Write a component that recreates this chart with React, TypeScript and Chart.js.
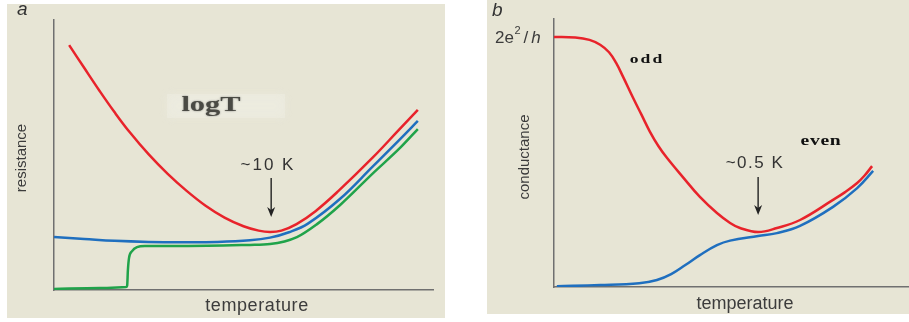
import React, { useEffect, useRef } from "react";
import { Chart, registerables } from "chart.js";

Chart.register(...registerables);

// ---------- Panel a: resistance vs temperature ----------
const resRedX = [4, 8, 12, 16, 20, 25, 30, 35, 40, 45, 50, 54, 57, 60, 64, 69, 75, 84, 91, 96];
const resRedY = [90.7, 82.2, 73.8, 65.8, 58.4, 50.2, 43.0, 36.7, 31.2, 26.8, 23.6, 22.0, 21.5, 22.0, 24.4, 29.2, 36.6, 48.9, 59.3, 66.7];

const resBlueX = [0, 8, 16, 25, 34, 43, 51.7, 57, 62, 67, 75.5, 84, 91, 96];
const resBlueY = [19.6, 18.9, 18.2, 17.8, 17.7, 17.8, 18.4, 19.4, 21.4, 24.6, 33.8, 45.6, 55.4, 62.6];

const resGreenX = [0, 12.1, 19.0, 19.3, 19.5, 19.8, 20.6, 21.9, 24.0, 34, 51.7, 57, 64.1, 69.4, 75.5, 84.2, 91.3, 96];
const resGreenY = [0.4, 0.7, 1.1, 1.6, 7.4, 11.9, 14.4, 15.9, 16.3, 16.3, 16.7, 17.0, 19.6, 24.4, 31.5, 43.3, 52.6, 59.6];

const resArrow = { x: 57.3, yTop: 41.5, yTip: 27.0 };

// ---------- Panel b: conductance vs temperature ----------
const condOddX = [0, 6, 10, 13, 15.5, 17.5, 19.5, 22.3, 24.6, 27, 29.4, 31.8, 36.3, 41.1, 45.9, 49.6, 52.4, 57.5, 62.8, 69.3, 78.6, 82, 85.4, 87.5, 89.6];
const condOddY = [93.3, 93.1, 92.2, 90.4, 87.6, 83.6, 78.3, 70.5, 64.4, 58.0, 52.6, 48.2, 41.0, 33.6, 27.6, 23.9, 22.0, 20.5, 22.0, 25.0, 32.5, 35.4, 38.8, 41.6, 45.1];

const condEvenX = [0.8, 13.0, 24, 29, 33, 37, 41.1, 45.9, 49.6, 57.5, 62.8, 69.3, 78.6, 85.4, 89.9];
const condEvenY = [0.3, 0.7, 1.4, 2.6, 4.8, 8.2, 11.9, 15.6, 17.3, 19.0, 20.1, 22.8, 29.9, 36.9, 43.3];

const condArrow = { x: 57.5, yTop: 41.0, yTip: 26.9 };

const RED = "#e8232b";
const BLUE = "#1f6fbf";
const GREEN = "#20a34a";
const BG = "#e7e5d5";
const AXIS = "#707070";
const TEXT = "#3c3c3c";
const SANS = '"Liberation Sans", Arial, sans-serif';
const SERIF = '"Liberation Serif", "Times New Roman", serif';

const zip = (xs: number[], ys: number[]) => xs.map((x, i) => ({ x, y: ys[i] }));

function lineDs(label: string, xs: number[], ys: number[], color: string, monotone = false) {
  return {
    label,
    data: zip(xs, ys),
    borderColor: color,
    backgroundColor: color,
    borderWidth: 2.5,
    pointRadius: 0,
    fill: false,
    tension: 0.4,
    cubicInterpolationMode: monotone ? ("monotone" as const) : ("default" as const),
  };
}

function drawArrow(chart: any, a: { x: number; yTop: number; yTip: number }) {
  const ctx = chart.ctx;
  const xs = chart.scales.x;
  const ys = chart.scales.y;
  const px = xs.getPixelForValue(a.x);
  const top = ys.getPixelForValue(a.yTop);
  const tip = ys.getPixelForValue(a.yTip);
  ctx.save();
  ctx.strokeStyle = "#222";
  ctx.fillStyle = "#222";
  ctx.lineWidth = 1.4;
  ctx.beginPath();
  ctx.moveTo(px, top);
  ctx.lineTo(px, tip - 6);
  ctx.stroke();
  ctx.beginPath();
  ctx.moveTo(px, tip);
  ctx.lineTo(px - 4, tip - 10);
  ctx.lineTo(px, tip - 7);
  ctx.lineTo(px + 4, tip - 10);
  ctx.closePath();
  ctx.fill();
  ctx.restore();
}

function text(
  ctx: CanvasRenderingContext2D,
  s: string,
  x: number,
  y: number,
  font: string,
  opts: { color?: string; rotate?: number; scaleX?: number; spacing?: string; align?: CanvasTextAlign; baseline?: CanvasTextBaseline } = {}
) {
  ctx.save();
  ctx.translate(x, y);
  if (opts.rotate) ctx.rotate(opts.rotate);
  if (opts.scaleX) ctx.scale(opts.scaleX, 1);
  ctx.font = font;
  (ctx as any).letterSpacing = opts.spacing || "0px";
  ctx.fillStyle = opts.color || TEXT;
  ctx.textAlign = opts.align || "center";
  ctx.textBaseline = opts.baseline || "middle";
  ctx.fillText(s, 0, 0);
  ctx.restore();
}

function baseOptions(padding: any) {
  return {
    animation: false as const,
    responsive: false,
    maintainAspectRatio: false,
    layout: { padding },
    plugins: { legend: { display: false }, tooltip: { enabled: false } },
    scales: {
      x: {
        type: "linear" as const,
        min: 0,
        max: 100,
        grid: { display: false, drawTicks: false },
        ticks: { display: false },
        border: { display: true, color: AXIS, width: 1.5 },
      },
      y: {
        type: "linear" as const,
        min: 0,
        max: 100,
        grid: { display: false, drawTicks: false },
        ticks: { display: false },
        border: { display: true, color: AXIS, width: 1.5 },
      },
    },
  };
}

const panelAPlugin = {
  id: "panelA",
  afterDraw(chart: any) {
    const ctx = chart.ctx as CanvasRenderingContext2D;
    drawArrow(chart, resArrow);
    text(ctx, "a", 10, 11, `italic 19px ${SANS}`, { align: "left", baseline: "alphabetic", color: "#333" });
    text(ctx, "resistance", 15, 154, `15px ${SANS}`, { rotate: -Math.PI / 2 });
    text(ctx, "temperature", 250, 302, `18px ${SANS}`, { spacing: "0.6px" });
    // very soft light band behind logT
    ctx.save();
    ctx.fillStyle = "rgba(242,241,233,0.35)";
    ctx.shadowColor = "rgba(242,241,233,0.8)";
    ctx.shadowBlur = 10;
    ctx.fillRect(160, 90, 118, 24);
    ctx.restore();
    ctx.save();
    ctx.shadowColor = "rgba(60,60,60,0.6)";
    ctx.shadowBlur = 2;
    text(ctx, "logT", 204, 102, `bold 21px ${SERIF}`, { scaleX: 1.45, color: "#4a4a44" });
    ctx.restore();
    text(ctx, "~10 K", 261, 161, `17px ${SANS}`, { spacing: "2px", color: "#333" });
  },
};

const panelBPlugin = {
  id: "panelB",
  afterDraw(chart: any) {
    const ctx = chart.ctx as CanvasRenderingContext2D;
    drawArrow(chart, condArrow);
    text(ctx, "b", 5, 16, `italic 19px ${SANS}`, { align: "left", baseline: "alphabetic", color: "#333" });
    // 2e²/h
    ctx.save();
    ctx.fillStyle = TEXT;
    ctx.textBaseline = "alphabetic";
    ctx.textAlign = "left";
    let x = 8;
    const base = 43;
    ctx.font = `17px ${SANS}`;
    ctx.fillText("2e", x, base);
    x += ctx.measureText("2e").width + 0.5;
    ctx.font = `11px ${SANS}`;
    ctx.fillText("2", x, base - 9);
    x += ctx.measureText("2").width + 3;
    ctx.font = `17px ${SANS}`;
    ctx.fillText("/", x, base);
    x += ctx.measureText("/").width + 3;
    ctx.font = `italic 17px ${SANS}`;
    ctx.fillText("h", x, base);
    ctx.restore();

    text(ctx, "conductance", 38, 157, `15px ${SANS}`, { rotate: -Math.PI / 2 });
    text(ctx, "temperature", 258, 304, `18px ${SANS}`);
    text(ctx, "odd", 160, 60, `bold 13px ${SERIF}`, { scaleX: 1.35, spacing: "1.5px", color: "#111" });
    text(ctx, "even", 334, 141, `bold 14px ${SERIF}`, { scaleX: 1.4, spacing: "0.5px", color: "#111" });
    text(ctx, "~0.5 K", 268, 163, `17px ${SANS}`, { spacing: "1.5px", color: "#333" });
  },
};

function Panel(props: { left: number; top: number; width: number; height: number; build: (c: HTMLCanvasElement) => Chart }) {
  const ref = useRef<HTMLCanvasElement | null>(null);
  useEffect(() => {
    if (!ref.current) return;
    const chart = props.build(ref.current);
    return () => chart.destroy();
  }, []);
  return (
    <div
      style={{
        position: "absolute",
        left: props.left,
        top: props.top,
        width: props.width,
        height: props.height,
        background: BG,
      }}
    >
      <canvas ref={ref} width={props.width} height={props.height} style={{ display: "block" }} />
    </div>
  );
}

export default function App() {
  const buildA = (c: HTMLCanvasElement) =>
    new Chart(c, {
      type: "line",
      data: {
        datasets: [
          lineDs("green", resGreenX, resGreenY, GREEN, true),
          lineDs("blue", resBlueX, resBlueY, BLUE),
          lineDs("red", resRedX, resRedY, RED),
        ],
      },
      options: baseOptions({ left: 47, top: 16, right: 12, bottom: 28 }) as any,
      plugins: [panelAPlugin],
    });

  const buildB = (c: HTMLCanvasElement) =>
    new Chart(c, {
      type: "line",
      data: {
        datasets: [
          lineDs("even", condEvenX, condEvenY, BLUE),
          lineDs("odd", condOddX, condOddY, RED),
        ],
      },
      options: baseOptions({ left: 67, top: 19, right: 0, bottom: 27 }) as any,
      plugins: [panelBPlugin],
    });

  return (
    <div style={{ position: "absolute", left: 0, top: 0, width: 909, height: 322, background: "#fff", overflow: "hidden" }}>
      <Panel left={7} top={4} width={438} height={314} build={buildA} />
      <Panel left={487} top={0} width={422} height={314} build={buildB} />
    </div>
  );
}
